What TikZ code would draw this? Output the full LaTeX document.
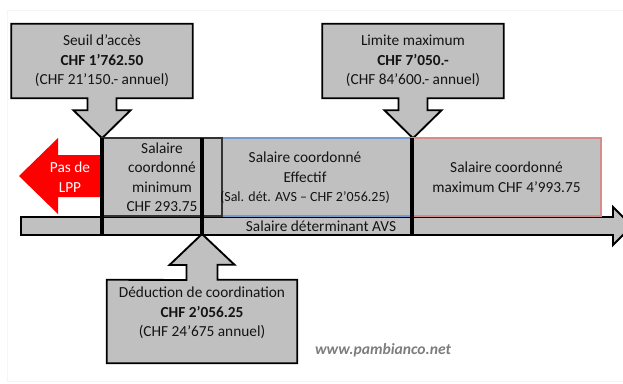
\documentclass[tikz,border=0pt]{standalone}
\usepackage{fontspec}
\setmainfont{Carlito}
\usetikzlibrary{
  positioning,
  calc,
  backgrounds
}

\definecolor{boxgray}{RGB}{192,192,192}
\definecolor{effblue}{RGB}{120,155,205}
\definecolor{maxred}{RGB}{215,140,140}
\definecolor{textdark}{RGB}{20,20,20}
\definecolor{webgray}{RGB}{125,125,125}

\begin{document}
\begin{tikzpicture}[x=0.75pt, y=-0.75pt, every node/.style={font=\fontsize{11.5}{14.6}\selectfont, text=textdark, align=center, inner sep=0pt},
  callout/.style={minimum width=135.75pt, minimum height=55.5pt},
  pointer/.style={draw, line width=1.4pt, fill=boxgray, line join=miter},
  band/.style={draw, line width=0.8pt, fill=boxgray, minimum height=58.5pt, outer sep=0pt},
  marker/.style={line width=2.3pt},
  bar/.style={draw, line width=1.4pt, fill=boxgray}
]
\useasboundingbox (0,0) rectangle (623,383);
\draw[black!4, line width=0.6pt] (7,10) rectangle (640,381);

% Salaire determinant AVS
\filldraw[bar] (21,217) -- (613,217) -- (613,207) -- (632,226) -- (613,245) -- (613,235) -- (21,235) -- cycle;
\node (avs) at (321,226) {Salaire déterminant AVS};

% Bands
\node[band, minimum width=142.5pt, draw=effblue] (eff) at (317,177) {};
\node[band, minimum width=90pt, draw=black!80, left=0pt of eff] (mini) {Salaire\\coordonné\\minimum\\CHF 293.75};
\node[band, minimum width=141.75pt, draw=maxred, right=0pt of eff] (maxi) {Salaire coordonné\\maximum CHF 4’993.75};
\node (efftxt) at (305,178) {Salaire coordonné\\Effectif\\{\fontsize{10.5}{14.6}\selectfont(Sal. dét. AVS -- CHF 2’056.25)}};

% Pas de LPP
\fill[red] (mini.west |- 0,155) -- (58,155) -- (58,138) -- (19,176) -- (58,214) -- (58,197) -- (mini.west |- 0,197) -- cycle;
\node[text=white] (lpp) at (70,177) {Pas de\\LPP};

% Markers
\coordinate (tipS) at (mini.north west);
\coordinate (tipL) at (eff.north east);
\coordinate (tipD) at (202,234);
\draw[marker] (tipS) -- ++(0,97);
\draw[marker] (tipL) -- ++(0,97);
\draw[marker] (tipD) -- ++(0,-96);

% Callouts
\node[callout] (seuil) at (102,61) {Seuil d’accès\\\textbf{CHF 1’762.50}\\(CHF 21’150.- annuel)};
\node[callout] (limite) at (413,61) {Limite maximum\\\textbf{CHF 7’050.-}\\(CHF 84’600.- annuel)};
\node[callout, minimum width=142.5pt, minimum height=62.25pt] (deduc) at (202,321.5) {};
\node (deductxt) at (202,313) {Déduction de coordination\\\textbf{CHF 2’056.25}\\(CHF 24’675 annuel)};

\begin{scope}[on background layer]
\foreach \c in {seuil, limite}
  \filldraw[pointer] (\c.south west) -- (\c.north west) -- (\c.north east) -- (\c.south east)
    -- ($(\c.south)+(14.5,0)$) -- ++(0,12) -- ++(14,0) -- ++(-28.5,28) -- ++(-28.5,-28) -- ++(14,0) -- ++(0,-12) -- cycle;
\filldraw[pointer] (deduc.north west) -- (deduc.south west) -- (deduc.south east) -- (deduc.north east)
  -- ($(deduc.north)+(15.5,0)$) -- ++(0,-15) -- ++(17,0) -- (tipD) -- ++(-32.5,31) -- ++(17,0) -- ++(0,15) -- cycle;
\end{scope}

\node[font=\fontsize{11.7}{12}\selectfont\bfseries\itshape, text=webgray] (web) at (383,350) {www.pambianco.net};

\end{tikzpicture}
\end{document}
